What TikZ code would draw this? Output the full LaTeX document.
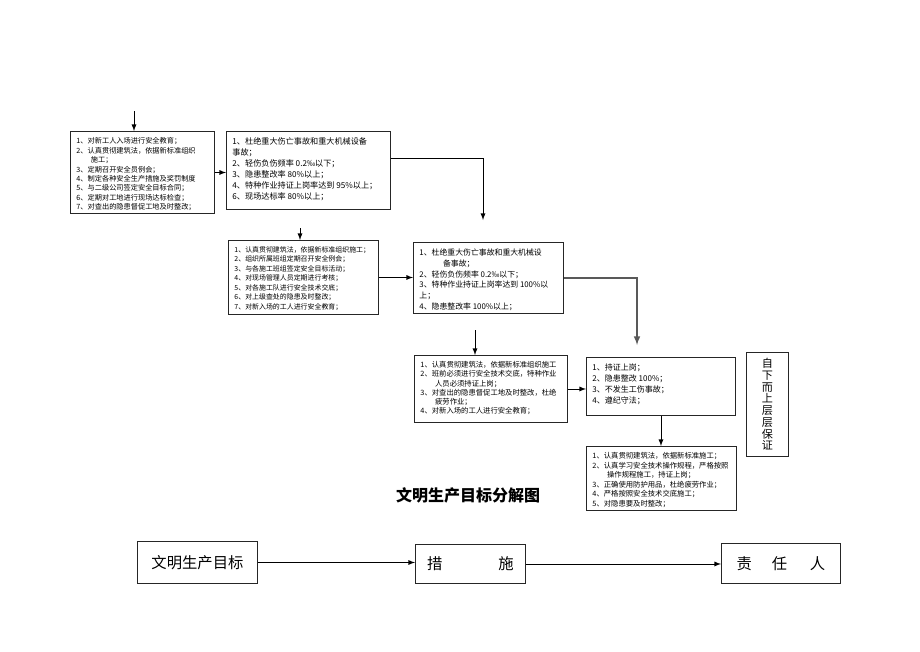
\documentclass[tikz,border=0pt]{standalone}
\usepackage{fontspec}
\setmainfont{Noto Sans CJK SC}
\usetikzlibrary{arrows,positioning}
\newlength{\pxu}
\setlength{\pxu}{0.75pt}
\newcommand{\boxtxt}[3]{\parbox[c][#2\pxu][t]{#1\pxu}{\raggedright\leftskip=6\pxu\vspace*{6\pxu}#3}}
\tikzset{
    boxsty/.style={draw=black!85,line width=0.7pt,inner sep=0pt,anchor=north west},
    tinysty/.style={font=\fontsize{5.4}{7.1}\selectfont},
    smallsty/.style={font=\fontsize{6.1}{8.2}\selectfont},
    bigsty/.style={draw=black!85,line width=0.7pt,inner sep=0pt,anchor=north west,font=\fontsize{11.5}{13}\selectfont},
    vertsty/.style={draw=black!85,line width=0.7pt,inner sep=0pt,anchor=north west,align=center,minimum width=42\pxu,minimum height=104\pxu,font=\fontsize{8.3}{8.8}\selectfont},
    titlesty/.style={font=\fontsize{12}{14}\selectfont\bfseries},
    arrsty/.style={->,line width=0.7pt},
}
\newcommand{\ind}{\hspace*{2em}}

\begin{document}
\begin{tikzpicture}[>=latex,x=0.75pt,y=-0.75pt]
  \useasboundingbox (0,0) rectangle (920,651);

  % company level
  \node[boxsty,tinysty] (A) at (70,131) {\boxtxt{144}{82}{%
    1、对新工人入场进行安全教育；\\
    2、认真贯彻建筑法，依据新标准组织\\
    \ind 施工；\\
    3、定期召开安全员例会；\\
    4、制定各种安全生产措施及奖罚制度\\
    5、与二级公司签定安全目标合同；\\
    6、定期对工地进行现场达标检查；\\
    7、对查出的隐患督促工地及时整改；}};
  \node[boxsty,smallsty] (B) at (226,131) {\boxtxt{164}{78}{%
    1、杜绝重大伤亡事故和重大机械设备\\
    事故；\\
    2、轻伤负伤频率 0.2‰以下；\\
    3、隐患整改率 80\%以上；\\
    4、特种作业持证上岗率达到 95\%以上；\\
    6、现场达标率 80\%以上；}};

  % site level
  \node[boxsty,font=\fontsize{5.2}{7.1}\selectfont] (C) at (228,240) {\boxtxt{150}{74}{%
    1、认真贯彻建筑法，依据新标准组织施工；\\
    2、组织所属班组定期召开安全例会；\\
    3、与各施工班组签定安全目标活动；\\
    4、对现场管理人员定期进行考核；\\
    5、对各施工队进行安全技术交底；\\
    6、对上级查处的隐患及时整改；\\
    7、对新入场的工人进行安全教育；}};
  \node[boxsty,font=\fontsize{5.9}{8.2}\selectfont] (D) at (413,242) {\boxtxt{150}{71}{%
    1、杜绝重大伤亡事故和重大机械设\\
    \hspace*{3em}备事故；\\
    2、轻伤负伤频率 0.2‰以下；\\
    3、特种作业持证上岗率达到 100\%以\\
    上；\\
    4、隐患整改率 100\%以上；}};

  % team level
  \node[boxsty,font=\fontsize{5.5}{6.9}\selectfont] (E) at (414,355) {\boxtxt{153}{67}{%
    1、认真贯彻建筑法，依据新标准组织施工\\
    2、班前必须进行安全技术交底，特种作业\\
    \ind 人员必须持证上岗；\\
    3、对查出的隐患督促工地及时整改，杜绝\\
    \ind 疲劳作业；\\
    4、对新入场的工人进行安全教育；}};
  \node[boxsty,font=\fontsize{6}{8.2}\selectfont] (F) at (586,357) {\boxtxt{149}{58}{%
    1、持证上岗；\\
    2、隐患整改 100\%；\\
    3、不发生工伤事故；\\
    4、遵纪守法；}};
  \node[vertsty] (G) at (746,352) {自\\下\\而\\上\\层\\层\\保\\证};
  \node[boxsty,font=\fontsize{5.5}{7.1}\selectfont] (H) at (586,446) {\boxtxt{150}{64}{%
    1、认真贯彻建筑法，依据新标准施工；\\
    2、认真学习安全技术操作规程，严格按照\\
    \ind 操作规程施工，持证上岗；\\
    3、正确使用防护用品，杜绝疲劳作业；\\
    4、严格按照安全技术交底施工；\\
    5、对隐患要及时整改；}};

  \node[titlesty] (title) at (468,495) {文明生产目标分解图};

  % legend row
  \node[bigsty,minimum width=120\pxu,minimum height=42\pxu] (P1) at (137,541) {文明生产目标};
  \node[bigsty,minimum width=110\pxu,minimum height=39\pxu] (P2) at (415,544) {措\hspace{42pt}施};
  \node[bigsty,minimum width=119\pxu,minimum height=40\pxu] (P3) at (721,543) {责\hspace{15pt}任\hspace{17pt}人};

  % connectors
  \coordinate (topin) at (134,111);
  \coordinate (dropB) at (483,220);
  \coordinate (topC) at (300,228);
  \coordinate (dropD) at (637,345);
  \coordinate (topE) at (475,330);

  \draw[arrsty] (topin) -- (topin |- A.north);
  \draw[arrsty] (A.east) -- (A.east -| B.west);
  \draw[arrsty] ([yshift=-27\pxu]B.north east) -| (dropB);
  \draw[arrsty] (topC) -- (topC |- C.north);
  \draw[arrsty] (C.east) -- (C.east -| D.west);
  \draw[arrsty,line width=1.2pt,draw=black!65] (D.east) -| (dropD);
  \draw[arrsty] (topE) -- (topE |- E.north);
  \draw[arrsty] (E.east) -- (E.east -| F.west);
  \draw[arrsty] (F.south) -- (F.south |- H.north);
  \draw[arrsty] (P1.east) -- (P1.east -| P2.west);
  \draw[arrsty] (P2.east) -- (P2.east -| P3.west);
\end{tikzpicture}
\end{document}
